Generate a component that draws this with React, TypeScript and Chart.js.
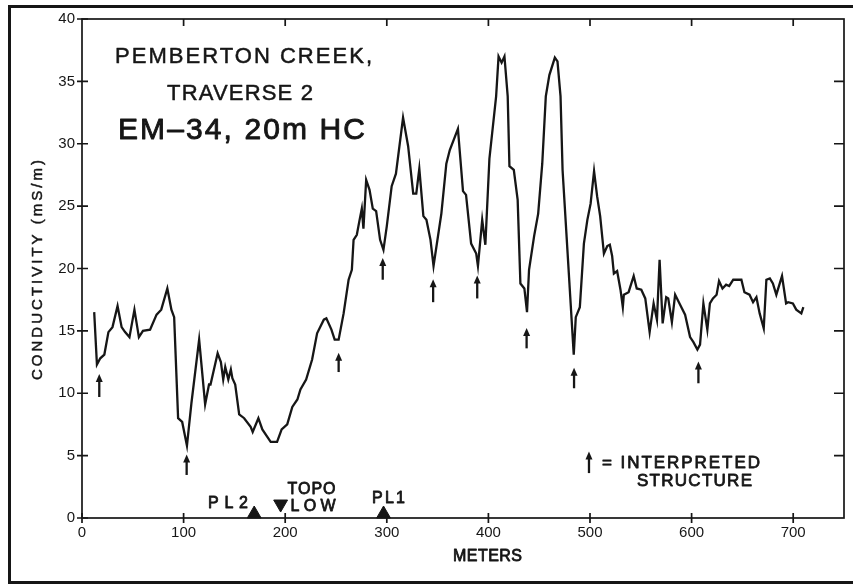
import React, { useEffect, useRef } from 'react';
import { Chart, registerables } from 'chart.js';

Chart.register(...registerables);

// ---- Data ----
const meters = [
  12, 14.7, 18, 22, 26, 30, 35, 39, 42.4, 46.7, 51.6, 56, 60, 67, 73.4, 78, 84, 88, 90.7, 94.6,
  98.6, 103.3, 107.7, 115.3, 121.2, 125, 126.5, 133.5, 136.7, 139, 141, 144, 146.5, 148, 150.8, 154.7,
  159.6, 166, 168, 173.6, 177.5, 182.4, 185.7, 192, 196.5, 202, 207, 212, 215, 220.6, 226.5, 231.4,
  238, 240.5, 245.5, 248.7, 252.6, 257.5, 262.4, 265.6, 267.3, 270.5, 273, 275.4, 277, 279.7, 283,
  286.2, 289.5, 293.4, 296.7, 300, 304.8, 309, 316, 321, 326, 329, 332, 336, 339, 343, 346, 353.7,
  358.6, 362, 370, 375, 378, 383, 388, 389.7, 393.9, 397, 401, 407.6, 410, 413, 415.8, 419, 420.7,
  425, 428.8, 431.5, 435.4, 438, 440, 445, 449, 453, 456.5, 460, 465.4, 468, 471, 473, 484, 486, 490,
  494, 497.4, 500.6, 504, 507, 510, 513.7, 517, 519.5, 521.8, 523.5, 526.7, 530, 532.3, 533.3, 538,
  543, 546, 550.5, 554.4, 558.7, 562.6, 565.9, 568.5, 571.5, 575, 577, 580.6, 583.8, 588.7, 593.6,
  598.5, 601.8, 605.7, 608.3, 611.6, 615.5, 618, 621, 624.6, 627, 630.4, 634, 637, 641, 649, 652, 657,
  660.5, 663.8, 667, 671, 673.6, 677, 680, 683.4, 689, 693, 695, 699.7, 703, 708, 710,
];
const conductivity = [
  16.5, 12.3, 12.8, 13.1, 14.9, 15.3, 17.0, 15.3, 14.9, 14.5, 16.7, 14.5, 15.0, 15.1, 16.3, 16.7, 18.4, 16.7, 16.1, 8.0,
  7.7, 5.8, 9.2, 14.3, 9.1, 10.7, 10.7, 13.2, 12.5, 11.1, 12.1, 11.1, 11.9, 11.2, 10.7, 8.3,
  8.0, 7.3, 6.9, 8.0, 7.1, 6.5, 6.1, 6.1, 7.1, 7.5, 8.9, 9.5, 10.3, 11.1, 12.7, 14.8,
  15.9, 16.0, 15.1, 14.3, 14.3, 16.4, 19.1, 19.9, 22.3, 22.7, 23.8, 24.8, 23.2, 27.1, 26.3,
  24.8, 24.6, 22.3, 21.5, 23.4, 26.6, 27.6, 32.1, 29.8, 26.0, 26.0, 28.0, 24.2, 23.9, 22.3, 20.2, 24.4,
  28.4, 29.5, 31.2, 26.2, 25.9, 22.0, 21.2, 20.2, 23.9, 21.9, 28.8, 33.8, 37.0, 36.5, 37.0, 33.8, 28.2,
  27.9, 25.5, 18.8, 18.4, 16.5, 19.9, 22.6, 24.4, 28.4, 33.8, 35.5, 36.9, 36.6, 33.8, 27.9, 13.1, 16.1, 16.9,
  22.0, 23.9, 25.2, 27.8, 25.8, 24.2, 21.2, 21.8, 21.9, 21.0, 19.6, 19.8, 18.3, 16.9, 17.9, 18.1,
  19.4, 18.4, 18.3, 17.6, 14.9, 17.2, 15.9, 20.7, 15.6, 17.7, 17.6, 15.7, 17.9, 17.1, 16.3,
  14.5, 14.1, 13.5, 13.9, 17.2, 15.1, 17.2, 17.6, 17.9, 19.0, 18.4, 18.7, 18.6, 19.1, 19.1, 18.1, 17.9,
  17.3, 17.7, 16.4, 15.2, 19.1, 19.2, 18.8, 17.9, 19.4, 17.2, 17.3, 17.2, 16.7, 16.4, 16.9,
];

// Interpreted-structure arrows: x position, arrow tip value, arrow tail value
const structureX = [17, 103, 252.6, 296, 345.6, 389, 437.6, 484.3, 606.7];
const structureTip = [11.5, 5.05, 13.2, 20.8, 19.1, 19.4, 15.2, 12.0, 12.5];
const structureTail = [9.7, 3.45, 11.7, 19.1, 17.3, 17.6, 13.6, 10.4, 10.8];
const legendArrow = { x: 499, tip: 5.3, tail: 3.6 };

// Site markers on the baseline
const markerNames = ['PL2', 'TOPO LOW', 'PL1'];
const markerX = [169.5, 195.5, 296.8];
const markerY = [0.32, 1.12, 0.32];
const markerRotation = [0, 180, 0];

const xTicks = [0, 100, 200, 300, 400, 500, 600, 700];
const yTicks = [0, 5, 10, 15, 20, 25, 30, 35, 40];
const yInnerTicks = [5, 10, 15, 20, 25, 30, 35];

const FONT = '"Liberation Sans", Arial, sans-serif';
const INK = '#161616';

function drawFit(
  ctx: CanvasRenderingContext2D,
  text: string,
  cx: number,
  cy: number,
  w: number,
  size: number,
  weight = 0.6,
) {
  ctx.save();
  ctx.font = `normal ${size}px ${FONT}`;
  (ctx as any).letterSpacing = '0px';
  const m = ctx.measureText(text).width;
  const n = text.length;
  const ls = n > 1 ? (w - m) / (n - 1) : 0;
  (ctx as any).letterSpacing = `${ls}px`;
  ctx.textAlign = 'left';
  ctx.textBaseline = 'alphabetic';
  ctx.fillStyle = INK;
  ctx.strokeStyle = INK;
  ctx.lineWidth = weight;
  ctx.lineJoin = 'round';
  const bx = cx - w / 2;
  const by = cy + size * 0.358;
  ctx.fillText(text, bx, by);
  if (weight > 0) ctx.strokeText(text, bx, by);
  ctx.restore();
}

function drawArrow(ctx: CanvasRenderingContext2D, px: number, top: number, bottom: number) {
  ctx.save();
  ctx.strokeStyle = INK;
  ctx.fillStyle = INK;
  ctx.lineWidth = 2.3;
  ctx.beginPath();
  ctx.moveTo(px, top + 5);
  ctx.lineTo(px, bottom);
  ctx.stroke();
  ctx.beginPath();
  ctx.moveTo(px, top - 0.5);
  ctx.lineTo(px - 3.5, top + 7.5);
  ctx.lineTo(px + 3.5, top + 7.5);
  ctx.closePath();
  ctx.fill();
  ctx.restore();
}

const decorPlugin = {
  id: 'decor',
  beforeDraw(chart: any) {
    const { ctx, width, height } = chart;
    ctx.save();
    ctx.fillStyle = '#fff';
    ctx.fillRect(0, 0, width, height);
    ctx.restore();
  },
  afterDraw(chart: any) {
    const { ctx, chartArea, scales } = chart;
    const { left, right, top, bottom } = chartArea;
    const xs = scales.x;
    const ys = scales.y;
    ctx.save();
    ctx.strokeStyle = INK;

    // outer page frame
    ctx.lineWidth = 3;
    ctx.strokeRect(9.5, 6.5, 870, 576);

    // plot frame
    ctx.lineWidth = 1.7;
    ctx.strokeRect(left, top, right - left, bottom - top);

    // tick marks
    ctx.lineWidth = 1.7;
    ctx.beginPath();
    xTicks.forEach((v) => {
      const px = xs.getPixelForValue(v);
      ctx.moveTo(px, bottom - 5);
      ctx.lineTo(px, bottom + 5);
      if (v > 0) {
        ctx.moveTo(px, top);
        ctx.lineTo(px, top + 7);
      }
    });
    yTicks.forEach((v) => {
      const py = ys.getPixelForValue(v);
      ctx.moveTo(left - 5, py);
      ctx.lineTo(left + 6, py);
    });
    yInnerTicks.forEach((v) => {
      const py = ys.getPixelForValue(v);
      ctx.moveTo(right - 10, py);
      ctx.lineTo(right, py);
    });
    ctx.stroke();
    ctx.restore();

    // structure arrows
    structureX.forEach((xv, i) => {
      drawArrow(ctx, xs.getPixelForValue(xv), ys.getPixelForValue(structureTip[i]), ys.getPixelForValue(structureTail[i]));
    });
    drawArrow(ctx, xs.getPixelForValue(legendArrow.x), ys.getPixelForValue(legendArrow.tip), ys.getPixelForValue(legendArrow.tail));

    // titles
    drawFit(ctx, 'PEMBERTON CREEK,', 243.5, 55, 257, 22, 0.5);
    drawFit(ctx, 'TRAVERSE 2', 240, 92, 146, 22, 0.5);
    drawFit(ctx, 'EM–34, 20m HC', 241.5, 128, 247, 30, 0.9);

    // legend
    drawFit(ctx, '= INTERPRETED', 681, 462, 158, 17, 0.8);
    drawFit(ctx, 'STRUCTURE', 694.5, 480, 115, 17, 0.8);

    // marker labels
    drawFit(ctx, 'PL2', 228, 502, 40, 16, 0.8);
    drawFit(ctx, 'TOPO', 311.5, 488, 48, 16, 0.8);
    drawFit(ctx, 'LOW', 313, 505, 45, 16, 0.8);
    drawFit(ctx, 'PL1', 388.5, 497, 33, 16, 0.8);

    // axis titles
    drawFit(ctx, 'METERS', 487.5, 555, 69, 16, 0.8);
    ctx.save();
    ctx.translate(37, 270);
    ctx.rotate(-Math.PI / 2);
    drawFit(ctx, 'CONDUCTIVITY (mS/m)', 0, 0, 220, 15, 0.5);
    ctx.restore();
  },
};

export default function App() {
  const ref = useRef<HTMLCanvasElement>(null);
  useEffect(() => {
    const lineData = meters.map((m, i) => ({ x: m, y: conductivity[i] }));
    const markerData = markerX.map((m, i) => ({ x: m, y: markerY[i] }));
    const chart = new Chart(ref.current as HTMLCanvasElement, {
      type: 'scatter',
      data: {
        datasets: [
          {
            label: 'Conductivity',
            data: lineData,
            showLine: true,
            borderColor: INK,
            borderWidth: 2.3,
            pointRadius: 0,
            tension: 0,
            fill: false,
          } as any,
          {
            label: markerNames.join(', '),
            data: markerData,
            pointStyle: 'triangle',
            pointRadius: 8,
            rotation: markerRotation,
            backgroundColor: INK,
            borderColor: INK,
            borderWidth: 1,
            clip: false,
          } as any,
        ],
      },
      options: {
        animation: false,
        responsive: false,
        devicePixelRatio: 1,
        layout: { padding: { left: 0, top: 19, right: 6, bottom: 0 } },
        plugins: { legend: { display: false }, tooltip: { enabled: false } },
        scales: {
          x: {
            type: 'linear',
            min: 0,
            max: 750,
            afterBuildTicks: (s: any) => {
              s.ticks = xTicks.map((v) => ({ value: v }));
            },
            afterFit: (s: any) => {
              s.height = 67;
            },
            grid: { display: false, drawTicks: false },
            border: { display: false },
            ticks: {
              color: INK,
              font: { family: FONT, size: 15 },
              padding: 6,
              maxRotation: 0,
              autoSkip: false,
            },
          },
          y: {
            type: 'linear',
            min: 0,
            max: 40,
            afterBuildTicks: (s: any) => {
              s.ticks = yTicks.map((v) => ({ value: v }));
            },
            afterFit: (s: any) => {
              s.width = 82;
            },
            grid: { display: false, drawTicks: false },
            border: { display: false },
            ticks: {
              color: INK,
              font: { family: FONT, size: 15 },
              padding: 7,
              autoSkip: false,
            },
          },
        },
      } as any,
      plugins: [decorPlugin],
    });
    return () => chart.destroy();
  }, []);
  return (
    <div style={{ position: 'fixed', left: 0, top: 0, width: 853, height: 585, background: '#fff' }}>
      <canvas ref={ref} width={853} height={585} style={{ display: 'block', width: 853, height: 585 }} />
    </div>
  );
}
